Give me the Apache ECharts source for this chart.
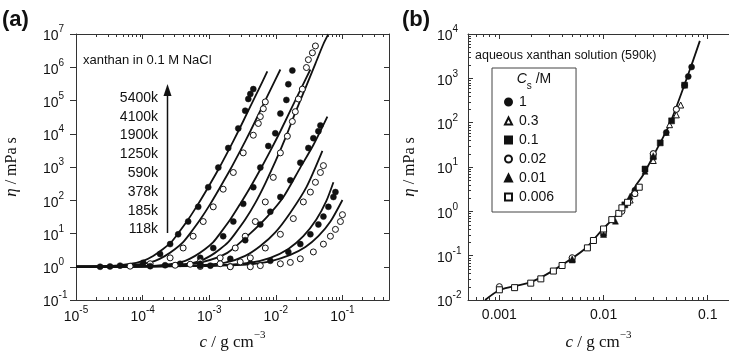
<!DOCTYPE html>
<html>
<head>
<meta charset="utf-8">
<script src="https://cdn.jsdelivr.net/npm/echarts@6/dist/echarts.min.js"></script>
<style>
  html, body { margin: 0; padding: 0; background: #fff; }
  #main { width: 729px; height: 356px; }
</style>
</head>
<body>
<div id="main"></div>
<script>
// ---- panel (a): xanthan in 0.1 M NaCl, lines = fits, points = data ----
const mwLabels = ['5400k', '4100k', '1900k', '1250k', '590k', '378k', '185k', '118k'];

const line5400k = [[1e-5,1],[3.03e-5,1.04],[6.05e-5,1.19],[1.02e-4,1.51],[1.44e-4,2.12],[2.03e-4,3.42],[2.69e-4,5.5],[3.42e-4,10.1],[4.83e-4,26.2],[6.84e-4,77.8],[9.66e-4,247],[1.37e-3,838],[1.93e-3,3050],[2.73e-3,1.19e4],[3.86e-3,4.93e4],[5.46e-3,2.05e5],[7.45e-3,7.47e5]];
const line4100k = [[1e-5,1],[4.59e-5,1.04],[9.17e-5,1.19],[1.54e-4,1.51],[2.18e-4,2.12],[3.08e-4,3.42],[4.06e-4,5.5],[5.18e-4,10.1],[7.33e-4,26.2],[1.04e-3,77.8],[1.46e-3,247],[2.07e-3,838],[2.92e-3,3050],[4.14e-3,1.19e4],[5.85e-3,4.93e4],[8.26e-3,2.05e5],[1.17e-2,8.56e5]];
const line1900k = [[1e-5,1],[1.30e-4,1.04],[2.59e-4,1.19],[4.36e-4,1.51],[6.15e-4,2.12],[8.71e-4,3.42],[1.15e-3,5.5],[1.46e-3,10.1],[2.07e-3,26.2],[2.92e-3,77.8],[4.14e-3,247],[5.85e-3,838],[8.26e-3,3050],[1.17e-2,1.19e4],[1.65e-2,4.93e4],[2.33e-2,2.05e5],[3.30e-2,8.56e5]];
const line1250k = [[1e-5,1],[2.18e-4,1.04],[4.36e-4,1.19],[7.33e-4,1.51],[1.04e-3,2.12],[1.46e-3,3.42],[1.93e-3,5.5],[2.46e-3,10.1],[3.47e-3,26.2],[4.92e-3,83.2],[6.95e-3,324],[9.82e-3,1440],[1.39e-2,7360],[1.96e-2,4.31e4],[2.78e-2,2.35e5],[3.93e-2,1.29e6],[5.18e-2,5.0e6],[6.15e-2,9.87e6]];
const line590k = [[1e-5,1],[1.30e-4,1.04],[3.66e-4,1.15],[7.33e-4,1.32],[1.87e-3,2.61],[4.14e-3,10.1],[7.45e-3,32.2],[1.30e-2,125],[2.33e-2,960],[3.66e-2,4580],[5.94e-2,3.28e4]];
const line378k = [[1e-5,1],[2.59e-4,1.04],[7.33e-4,1.11],[1.74e-3,1.32],[3.47e-3,2.12],[5.85e-3,4.19],[9.82e-3,10.8],[1.65e-2,42.2],[2.88e-2,247],[5.0e-2,3050]];
const line185k = [[1e-5,1],[3.66e-4,1.04],[1.46e-3,1.11],[4.14e-3,1.32],[8.26e-3,1.85],[1.54e-2,3.42],[2.59e-2,8.27],[4.06e-2,26.2],[5.74e-2,95.3],[7.32e-2,347]];
const line118k = [[1e-5,1],[5.18e-4,1.04],[2.07e-3,1.11],[4.14e-3,1.19],[8.26e-3,1.46],[1.65e-2,2.27],[2.78e-2,3.92],[4.35e-2,8.27],[6.60e-2,22.9],[0.100,102]];

const pts5400k = [[2.30e-5,1.0],[3.24e-5,1.02],[4.59e-5,1.08],[1.02e-4,1.32],[1.83e-4,2.43],[2.59e-4,4.80],[3.42e-4,9.47],[4.83e-4,22.9],[6.84e-4,63.4],[9.66e-4,247],[1.37e-3,960],[1.93e-3,3730],[2.73e-3,1.45e4],[3.47e-3,4.93e4],[3.86e-3,1.11e5],[4.14e-3,1.57e5],[4.59e-3,2.20e5]];
const pts4100k = [[6.49e-5,1.04],[1.30e-4,1.23],[2.59e-4,1.85],[4.06e-4,3.66],[5.74e-4,8.27],[8.13e-4,22.9],[1.15e-3,63.4],[1.62e-3,215],[2.30e-3,684],[3.24e-3,2660],[4.59e-3,9040],[5.46e-3,2.04e4],[5.85e-3,3.28e4],[6.49e-3,5.65e4],[6.95e-3,9.1e4]];
const pts1900k = [[1.30e-4,1.04],[2.18e-4,1.11],[3.66e-4,1.23],[7.33e-4,1.85],[1.15e-3,3.66],[1.62e-3,8.27],[2.30e-3,22.9],[3.24e-3,77.8],[4.59e-3,247],[5.85e-3,960],[7.71e-3,4280],[9.82e-3,1.03e4],[1.17e-2,4.03e4],[1.44e-2,1.04e5],[1.54e-2,3.09e5],[1.77e-2,8.0e5]];
const pts1250k = [[3.08e-4,1.11],[5.18e-4,1.19],[7.33e-4,1.41],[1.46e-3,1.85],[2.46e-3,3.66],[3.47e-3,8.27],[4.92e-3,22.9],[6.95e-3,89.1],[9.16e-3,487],[1.17e-2,2660],[1.49e-2,8440],[1.77e-2,2.34e4],[1.96e-2,4.61e4],[2.18e-2,1.11e5],[2.50e-2,2.20e5],[2.88e-2,9.8e5],[3.08e-2,1.69e6],[3.54e-2,2.72e6],[3.93e-2,4.37e6]];
const pts590k = [[7.33e-4,1.23],[1.04e-3,1.08],[2.07e-3,1.73],[3.47e-3,6.3],[5.85e-3,18.7],[8.26e-3,45.2],[1.17e-2,125],[1.65e-2,397],[2.33e-2,1350],[3.08e-2,3730],[3.66e-2,7360],[4.35e-2,1.19e4],[4.67e-2,1.78e4]];
const pts378k = [[7.33e-4,1.02],[1.46e-3,1.23],[2.92e-3,1.4],[4.14e-3,1.85],[6.95e-3,3.66],[1.17e-2,9.47],[1.83e-2,28.1],[2.59e-2,89.1],[3.30e-2,176],[3.93e-2,347],[4.67e-2,684],[5.18e-2,1100]];
const pts185k = [[7.33e-4,1.08],[2.07e-3,1.02],[4.14e-3,1.23],[8.26e-3,1.51],[1.54e-2,2.79],[2.33e-2,4.80],[3.30e-2,9.47],[4.35e-2,18.7],[5.18e-2,32.2],[6.15e-2,63.4],[7.32e-2,125],[7.85e-2,176]];
const pts118k = [[2.07e-3,1.0],[4.14e-3,1.0],[5.85e-3,1.08],[1.17e-2,1.23],[1.65e-2,1.35],[2.33e-2,1.73],[3.66e-2,2.79],[5.18e-2,4.80],[6.60e-2,8.27],[7.85e-2,13.3],[9.33e-2,22.9],[0.100,36.8]];

// ---- panel (b): aqueous xanthan (590k), various salt Cs ----
const bLine = [[7.3e-4,0.01],[1.01e-3,0.0168],[1.97e-3,0.025],[3.27e-3,0.046],[6.8e-3,0.149],[9.4e-3,0.355],[1.29e-2,0.76],[1.72e-2,1.81],[2.05e-2,3.9],[2.39e-2,6.5],[3.26e-2,25.7],[4.35e-2,97],[6.76e-2,1600],[8.4e-2,7000]];
const bCs1 = [[2e-2,3],[3e-2,20],[4e-2,60],[5e-2,200],[6e-2,700],[6.5e-2,1100],[7e-2,1800]];
const bCs03 = [[1.8e-2,1.8],[2e-2,2.6],[3e-2,14],[4.3e-2,90],[5e-2,150],[5.5e-2,250]];
const bCs01 = [[5e-3,0.08],[1e-2,0.32],[1.6e-2,1.4],[2.5e-2,9],[3e-2,17],[3.5e-2,35],[4.5e-2,110],[6e-2,700]];
const bCs002 = [[1e-3,0.02],[5e-3,0.09],[1e-2,0.35],[1.5e-2,1.0],[2e-2,2.5],[3e-2,20],[5e-2,200]];
const bCs001 = [[5e-3,0.085],[1e-2,0.3],[1.3e-2,0.6],[1.8e-2,2.2],[2.5e-2,8],[3e-2,18],[4e-2,60]];
const bCs0006 = [[1.0e-3,0.017],[1.4e-3,0.019],[2.0e-3,0.024],[2.5e-3,0.03],[3.3e-3,0.045],[4e-3,0.06],[7e-3,0.15],[8e-3,0.22],[1.0e-2,0.4],[1.2e-2,0.65],[1.4e-2,0.9],[1.5e-2,1.2],[1.7e-2,1.6],[2.2e-2,3.5]];
const bNames = ['1', '0.3', '0.1', '0.02', '0.01', '0.006'];

const SANS = '"Liberation Sans", Arial, sans-serif';
const SERIF = '"Liberation Serif", "Times New Roman", serif';
const INK = '#111';
const AXIS = '#333';

const A_X = [1e-5, 0.5], A_Y = [0.1, 1e7];
const B_X = [5e-4, 0.16], B_Y = [0.01, 1e4];

function minorTicks(lo, hi) {
  const out = [];
  for (let e = Math.floor(Math.log10(lo)); e <= Math.ceil(Math.log10(hi)); e++) {
    for (let m = 2; m <= 9; m++) {
      const v = m * Math.pow(10, e);
      if (v > lo * 1.001 && v < hi * 0.999) out.push(v);
    }
  }
  return out;
}

const supRich = {
  b: { fontSize: 14, fontFamily: SANS, color: INK, verticalAlign: 'bottom', lineHeight: 19 },
  s: { fontSize: 10, fontFamily: SANS, color: INK, verticalAlign: 'top', lineHeight: 10 }
};
function powLabel(v) {
  const e = Math.log10(v), r = Math.round(e);
  if (Math.abs(e - r) > 1e-6) return '';
  return '{b|10}{s|' + r + '}';
}
function decLabel(v) {
  const e = Math.log10(v), r = Math.round(e);
  if (Math.abs(e - r) > 1e-6) return '';
  return v.toFixed(-r);
}

const xName = {
  name: '{i|c}{t| / g cm}{s|\u22123}',
  nameLocation: 'middle',
  nameGap: 30,
  nameTextStyle: {
    rich: {
      i: { fontFamily: SERIF, fontStyle: 'italic', fontSize: 17, color: INK, verticalAlign: 'bottom', lineHeight: 21 },
      t: { fontFamily: SERIF, fontSize: 17, color: INK, verticalAlign: 'bottom', lineHeight: 21 },
      s: { fontFamily: SERIF, fontSize: 11, color: INK, verticalAlign: 'top', lineHeight: 11 }
    }
  }
};
function yName(gap) {
  return {
    name: '{i|\u03b7}{t| / mPa s}',
    nameLocation: 'middle',
    nameGap: gap,
    nameRotate: 90,
    nameTextStyle: {
      rich: {
        i: { fontFamily: SERIF, fontStyle: 'italic', fontSize: 17, color: INK },
        t: { fontFamily: SERIF, fontSize: 16, color: INK }
      }
    }
  };
}

function logAxis(opt) {
  return Object.assign({
    type: 'log',
    logBase: 10,
    axisLine: { show: true, onZero: false, lineStyle: { color: AXIS, width: 1 } },
    axisTick: { show: true, inside: true, length: 5, lineStyle: { color: AXIS } },
    splitLine: { show: false },
    axisLabel: { show: false }
  }, opt);
}

const chart = echarts.init(document.getElementById('main'), null, { renderer: 'canvas' });

function lineSeries(data, xi, yi) {
  return {
    type: 'line', data: data, xAxisIndex: xi, yAxisIndex: yi,
    showSymbol: false, smooth: 0.25, silent: true,
    lineStyle: { color: INK, width: 1.8 }, z: 3
  };
}
function dotSeries(data, filled, xi, yi, symbol, name) {
  return {
    type: 'scatter', name: name, data: data, xAxisIndex: xi, yAxisIndex: yi,
    symbol: symbol || 'circle', symbolSize: 6, silent: true, z: 4,
    itemStyle: filled ? { color: INK, borderColor: INK, borderWidth: 0.5, opacity: 1 }
                      : { color: '#fff', borderColor: INK, borderWidth: 1, opacity: 1 }
  };
}
function minorSeries(vals, xi, yi, dir) {
  // dir 'x': ticks along both horizontal axes; 'y': ticks along left axis
  return {
    type: 'custom', xAxisIndex: xi, yAxisIndex: yi, silent: true, z: 6,
    data: vals.map(v => dir === 'x' ? [v, yi === 0 ? A_Y[0] : B_Y[0]] : [B_X[0], v]),
    encode: { x: 0, y: 1 },
    renderItem: function (params, api) {
      const st = { stroke: AXIS, lineWidth: 1 };
      if (dir === 'x') {
        const yr = yi === 0 ? A_Y : B_Y;
        const pb = api.coord([api.value(0), yr[0]]);
        const pt = api.coord([api.value(0), yr[1]]);
        const x = Math.round(pb[0]) + 0.5;
        return { type: 'group', children: [
          { type: 'line', shape: { x1: x, y1: pb[1], x2: x, y2: pb[1] - 3 }, style: st },
          { type: 'line', shape: { x1: x, y1: pt[1], x2: x, y2: pt[1] + 3 }, style: st }
        ] };
      }
      const p = api.coord([B_X[0], api.value(1)]);
      const y = Math.round(p[1]) + 0.5;
      return { type: 'line', shape: { x1: p[0], y1: y, x2: p[0] + 3, y2: y }, style: st };
    }
  };
}

const aLines = [line5400k, line4100k, line1900k, line1250k, line590k, line378k, line185k, line118k];
const aPts = [pts5400k, pts4100k, pts1900k, pts1250k, pts590k, pts378k, pts185k, pts118k];
const bPts = [bCs1, bCs03, bCs01, bCs002, bCs001, bCs0006];
const bSymbols = ['circle', 'triangle', 'rect', 'circle', 'triangle', 'rect'];
const bFilled = [true, false, true, false, true, false];

const series = [];
aLines.forEach(d => series.push(lineSeries(d, 0, 0)));
aPts.forEach((d, i) => series.push(dotSeries(d, i % 2 === 0, 0, 0)));
series.push(lineSeries(bLine, 2, 2));
bPts.forEach((d, i) => series.push(dotSeries(d, bFilled[i], 2, 2, bSymbols[i], bNames[i])));
series.push(minorSeries(minorTicks(A_X[0], A_X[1]), 0, 0, 'x'));
series.push(minorSeries(minorTicks(B_X[0], B_X[1]), 2, 2, 'x'));
series.push(minorSeries(minorTicks(B_Y[0], B_Y[1]), 2, 2, 'y'));

const sansText = { fontFamily: SANS, fill: INK };
const graphic = [
  { type: 'text', left: 2, top: 9, style: { text: '(a)', font: 'bold 22px ' + SANS, fill: INK } },
  { type: 'text', left: 402, top: 9, style: { text: '(b)', font: 'bold 22px ' + SANS, fill: INK } },
  { type: 'text', left: 83, top: 54, style: Object.assign({ text: 'xanthan in 0.1 M NaCl', fontSize: 13 }, sansText) },
  { type: 'text', left: 475, top: 49, style: Object.assign({ text: 'aqueous xanthan solution (590k)', fontSize: 12.5 }, sansText) },
  { type: 'line', shape: { x1: 167.5, y1: 233, x2: 167.5, y2: 92 }, style: { stroke: INK, lineWidth: 1.5 } },
  { type: 'polygon', shape: { points: [[163.5, 96], [171.5, 96], [167.5, 84]] }, style: { fill: INK } },
  { type: 'text', x: 534, y: 82, style: { text: '{i|C}{s|s}{t| /M}', align: 'center', verticalAlign: 'middle',
      rich: { i: { fontFamily: SANS, fontStyle: 'italic', fontSize: 14, fill: INK, verticalAlign: 'top', lineHeight: 16 },
              s: { fontFamily: SANS, fontSize: 10, fill: INK, verticalAlign: 'bottom', lineHeight: 19 },
              t: { fontFamily: SANS, fontSize: 14, fill: INK, verticalAlign: 'top', lineHeight: 16 } } } }
];
mwLabels.forEach((t, i) => {
  graphic.push({ type: 'text', x: 158, y: 98 + i * 18.8,
    style: Object.assign({ text: t, fontSize: 14, align: 'right', verticalAlign: 'middle' }, sansText) });
});

chart.setOption({
  animation: false,
  backgroundColor: '#fff',
  grid: [
    { left: 76, top: 34, width: 313, height: 271 },
    { left: 468, top: 34, width: 261, height: 271 }
  ],
  xAxis: [
    logAxis(Object.assign({ gridIndex: 0, position: 'bottom', min: A_X[0], max: A_X[1], splitNumber: 5,
      axisLabel: { show: true, formatter: powLabel, rich: supRich, margin: 5, showMaxLabel: false } }, xName)),
    logAxis({ gridIndex: 0, position: 'top', min: A_X[0], max: A_X[1], splitNumber: 5 }),
    logAxis(Object.assign({ gridIndex: 1, position: 'bottom', min: B_X[0], max: B_X[1], splitNumber: 2,
      axisLabel: { show: true, formatter: decLabel, fontSize: 14, fontFamily: SANS, color: INK, margin: 8, showMaxLabel: false } }, xName)),
    logAxis({ gridIndex: 1, position: 'top', min: B_X[0], max: B_X[1], splitNumber: 2 })
  ],
  yAxis: [
    logAxis(Object.assign({ gridIndex: 0, position: 'left', min: A_Y[0], max: A_Y[1], splitNumber: 8,
      axisTick: { show: true, inside: false, length: 6, lineStyle: { color: AXIS } },
      axisLabel: { show: true, formatter: powLabel, rich: supRich, margin: 33, align: 'left' } }, yName(56))),
    logAxis({ gridIndex: 0, position: 'right', min: A_Y[0], max: A_Y[1], splitNumber: 8 }),
    logAxis(Object.assign({ gridIndex: 1, position: 'left', min: B_Y[0], max: B_Y[1], splitNumber: 6,
      axisTick: { show: true, inside: true, length: 5, lineStyle: { color: AXIS } },
      axisLabel: { show: true, formatter: powLabel, rich: supRich, margin: 31, align: 'left' } }, yName(50)))
  ],
  legend: {
    data: bNames, orient: 'vertical', left: 492, top: 68,
    padding: [26, 22, 7, 12], itemGap: 3, itemWidth: 7, itemHeight: 7,
    borderColor: '#444', borderWidth: 1, selectedMode: false,
    textStyle: { fontFamily: SANS, fontSize: 14, color: INK, lineHeight: 16, padding: [0, 0, 0, 2] }
  },
  graphic: graphic,
  series: series
});
</script>
</body>
</html>
